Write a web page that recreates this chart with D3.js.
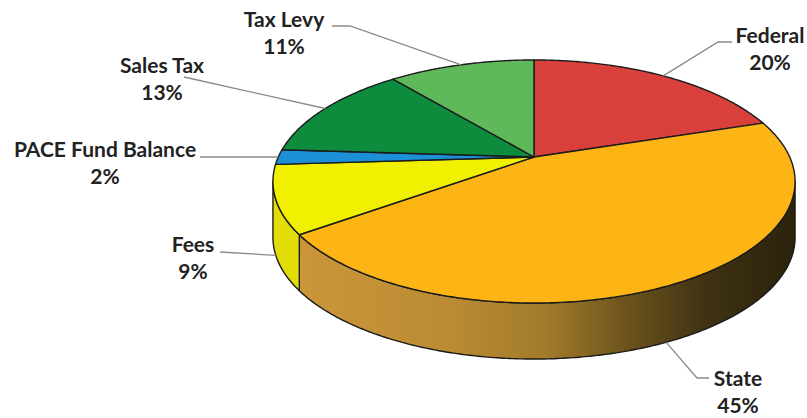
<!DOCTYPE html>
<html>
<head>
<meta charset="utf-8">
<script src="https://cdn.jsdelivr.net/npm/d3@7/dist/d3.min.js"></script>
<style>
  html, body { margin: 0; padding: 0; background: #fff; }
  svg { display: block; }
  .lbl { font-family: Lato, "Open Sans", sans-serif; font-weight: 700; font-size: 21px; fill: #222; }
</style>
</head>
<body>
<svg id="chart" width="807" height="418"></svg>
<script>
// Revenue sources and their share of the total (percent)
const categories = ["Federal", "State", "Fees", "PACE Fund Balance", "Sales Tax", "Tax Levy"];
const shares = [20, 45, 9, 2, 13, 11];

// Fill colours for the top face, and for the visible rim
const topColors = ["#d9403c", "#fdb515", "#f1f000", "#1c8fd6", "#0d8c3e", "#5fb85a"];
const sideColors = [null, "url(#stateSide)", "#e2dc08", null, null, null];

// Label placement: text centre / baseline, leader start points, rim anchor
const labelLayout = [
  { x: 770, y: 43, leader: [[732, 42], [718, 42]], anchor: { level: 0 } },
  { x: 738, y: 386, leader: [[709, 378], [697, 378]], anchor: { angle: 155, level: 1 } },
  { x: 193, y: 252, leader: [[220, 252]], anchor: { level: 1 } },
  { x: 105, y: 157, leader: [[200, 157]], anchor: { level: 0 } },
  { x: 162, y: 73, leader: [[184, 77]], anchor: { level: 0 } },
  { x: 284, y: 27, leader: [[332, 26], [350, 26]], anchor: { level: 0 } }
];

// Tilted disc geometry (projective view of a circle) and rim depth
const cx = 534, cy = 157, Rx = 255.7, Ry = 116.6, persp = 0.2016, depth = 56;

function project(theta, level) {
  const u = Math.cos(theta), s = Math.sin(theta), w = 1 + persp * u;
  return [cx + Rx * s / w, cy - Ry * u / w + level * depth];
}

function arcPoints(a0, a1, level) {
  const n = Math.max(2, Math.ceil(Math.abs(a1 - a0) / 0.01));
  return d3.range(n + 1).map(i => project(a0 + (a1 - a0) * i / n, level));
}

const svg = d3.select("#chart");
const defs = svg.append("defs");
const grad = defs.append("linearGradient")
  .attr("id", "stateSide").attr("gradientUnits", "userSpaceOnUse")
  .attr("x1", 295).attr("y1", 0).attr("x2", 797).attr("y2", 0);
[[0, "#cc963a"], [0.3, "#bb8c33"], [0.5, "#a27b2b"], [0.66, "#6c531c"], [0.82, "#3f3213"], [1, "#2a220b"]]
  .forEach(([o, c]) => grad.append("stop").attr("offset", o).attr("stop-color", c));

const arcs = d3.pie().sort(null).value(d => d)(shares);
const line = d3.line();

// Visible part of the rim lies between the two silhouette angles
const visMin = Math.acos(-persp), visMax = 2 * Math.PI - Math.acos(-persp);

const sideG = svg.append("g");
arcs.forEach((a, i) => {
  const a0 = Math.max(a.startAngle, visMin), a1 = Math.min(a.endAngle, visMax);
  if (a1 <= a0) return;
  const topPts = arcPoints(a0, a1, 0);
  const botPts = arcPoints(a1, a0, 1);
  sideG.append("path")
    .attr("d", line(topPts.concat(botPts)) + "Z")
    .attr("fill", sideColors[i] || topColors[i])
    .attr("stroke", "#1b1b1b").attr("stroke-width", 1.4).attr("stroke-linejoin", "round");
});

const topG = svg.append("g");
arcs.forEach((a, i) => {
  const pts = [[cx, cy]].concat(arcPoints(a.startAngle, a.endAngle, 0));
  topG.append("path")
    .attr("d", line(pts) + "Z")
    .attr("fill", topColors[i])
    .attr("stroke", "#1b1b1b").attr("stroke-width", 1.4).attr("stroke-linejoin", "round");
});

// Leader lines and labels
const labG = svg.append("g");
arcs.forEach((a, i) => {
  const L = labelLayout[i];
  const ang = L.anchor.angle != null ? L.anchor.angle * Math.PI / 180 : (a.startAngle + a.endAngle) / 2;
  const end = project(ang, L.anchor.level);
  labG.append("path")
    .attr("d", line(L.leader.concat([end])))
    .attr("fill", "none").attr("stroke", "#8a8a8a").attr("stroke-width", 1.3);
  const t = labG.append("text").attr("class", "lbl").attr("text-anchor", "middle");
  t.append("tspan").attr("x", L.x).attr("y", L.y).text(categories[i]);
  t.append("tspan").attr("x", L.x).attr("y", L.y + 27).text(a.data + "%");
});
</script>
</body>
</html>
